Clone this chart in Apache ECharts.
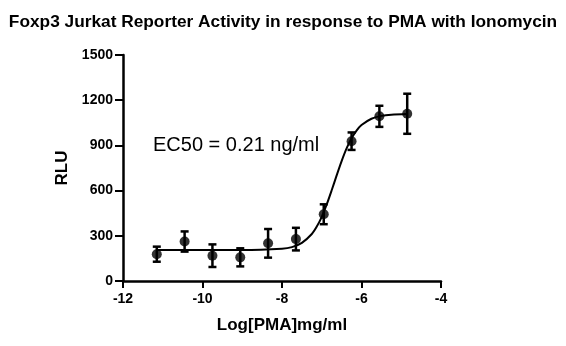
<!DOCTYPE html>
<html><head><meta charset="utf-8">
<script src="https://cdn.jsdelivr.net/npm/echarts@6/dist/echarts.min.js"></script>
<style>html,body{margin:0;padding:0;background:#fff}#c{width:566px;height:346px}</style>
</head><body><div id="c"></div>
<script>
const logConc = [-11.15, -10.45, -9.75, -9.05, -8.35, -7.65, -6.95, -6.25, -5.55, -4.85];
const meanRLU = [178, 262, 168, 157, 250, 278, 443, 928, 1093, 1110];
const errRLU  = [50, 67, 75, 60, 95, 75, 66, 58, 70, 133];
const fitX = [-11.15, -9, -8, -7.75, -7.5, -7.25, -7.125, -7, -6.875, -6.75, -6.625, -6.5, -6.375, -6.25, -6.125, -6, -5.75, -5.5, -5.25, -4.85];
const fitY = [205, 205, 214, 225, 253, 312, 361, 426, 508, 602, 701, 796, 880, 947, 998, 1035, 1077, 1096, 1104, 1108];
const yTicks = [0, 300, 600, 900, 1200, 1500];
const xTicks = [-12, -10, -8, -6, -4];
const titleText = 'Foxp3 Jurkat Reporter Activity in response to PMA with Ionomycin';
const ec50Text = 'EC50 = 0.21 ng/ml';

const chart = echarts.init(document.getElementById('c'));
const font = 'Liberation Sans, Arial, sans-serif';
chart.setOption({
  animation: false,
  title: { text: titleText, left: 'center', top: 9, textStyle: { fontFamily: font, fontSize: 17.3, fontWeight: 'bold', color: '#000' } },
  grid: { left: 123, right: 125, top: 55, bottom: 65 },
  xAxis: {
    type: 'value', min: xTicks[0], max: xTicks[xTicks.length - 1], interval: 2,
    name: 'Log[PMA]mg/ml', nameLocation: 'middle', nameGap: 36,
    nameTextStyle: { fontFamily: font, fontSize: 17, fontWeight: 'bold', color: '#000' },
    axisLine: { lineStyle: { color: '#000', width: 2.5 } },
    axisTick: { length: 7, lineStyle: { color: '#000', width: 2 } },
    axisLabel: { fontFamily: font, fontSize: 14, fontWeight: 'bold', color: '#000', margin: 11 },
    splitLine: { show: false }
  },
  yAxis: {
    type: 'value', min: yTicks[0], max: yTicks[yTicks.length - 1], interval: 300,
    name: 'RLU', nameLocation: 'middle', nameGap: 50, nameRotate: 90,
    nameTextStyle: { fontFamily: font, fontSize: 17, fontWeight: 'bold', color: '#000' },
    axisLine: { show: true, lineStyle: { color: '#000', width: 2.5 } },
    axisTick: { show: true, length: 8, lineStyle: { color: '#000', width: 2 } },
    axisLabel: { fontFamily: font, fontSize: 14, fontWeight: 'bold', color: '#000', margin: 10, formatter: v => String(v) },
    splitLine: { show: false }
  },
  graphic: [{ type: 'text', left: 153, top: 135, style: { text: ec50Text, fontFamily: font, fontSize: 20, fill: '#000' } }],
  series: [
    { type: 'line', data: fitX.map((x, i) => [x, fitY[i]]), smooth: 0.3, showSymbol: false,
      lineStyle: { color: '#000', width: 2 }, z: 2 },
    { type: 'custom', z: 3,
      data: logConc.map((x, i) => [x, meanRLU[i] - errRLU[i], meanRLU[i] + errRLU[i]]),
      renderItem: function (params, api) {
        const lo = api.coord([api.value(0), api.value(1)]);
        const hi = api.coord([api.value(0), api.value(2)]);
        const w = 4;
        const s = { stroke: '#000', lineWidth: 2.5 };
        return { type: 'group', children: [
          { type: 'line', shape: { x1: lo[0], y1: lo[1], x2: hi[0], y2: hi[1] }, style: s },
          { type: 'line', shape: { x1: lo[0] - w, y1: lo[1], x2: lo[0] + w, y2: lo[1] }, style: s },
          { type: 'line', shape: { x1: hi[0] - w, y1: hi[1], x2: hi[0] + w, y2: hi[1] }, style: s }
        ]};
      }
    },
    { type: 'scatter', data: logConc.map((x, i) => [x, meanRLU[i]]), symbol: 'circle', symbolSize: 10,
      itemStyle: { color: '#000' }, z: 4 }
  ]
});
</script></body></html>
